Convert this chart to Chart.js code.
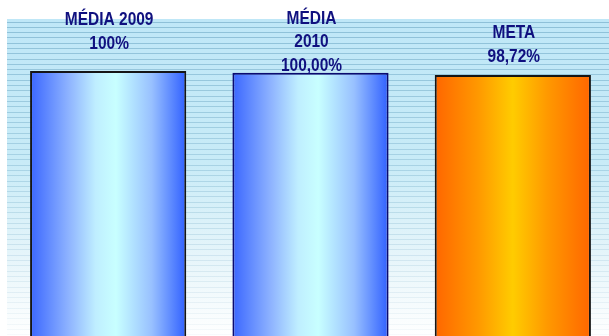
<!DOCTYPE html>
<html>
<head>
<meta charset="utf-8">
<script src="https://cdn.jsdelivr.net/npm/chart.js@4.4.1/dist/chart.umd.min.js"></script>
<style>
  html, body { margin: 0; padding: 0; background: #fff; overflow: hidden; }
  #wrap { width: 614px; height: 384px; }
</style>
</head>
<body>
<div id="wrap"><canvas id="chart" width="614" height="384"></canvas></div>
<script>
// categories and values
const categories = ['MÉDIA 2009', 'MÉDIA 2010', 'META'];
const values = [100, 99.4, 98.72];
const barLabels = [
  ['MÉDIA 2009', '100%'],
  ['MÉDIA', '2010', '100,00%'],
  ['META', '98,72%']
];

const blueStops = [[0, '#3a66ff'], [0.25, '#8fb4ff'], [0.42, '#bfeeff'], [0.55, '#c8ffff'], [0.78, '#98c0ff'], [1, '#3060ff']];
const orangeStops = [[0, '#ff6600'], [0.28, '#ff9900'], [0.5, '#ffcc00'], [0.72, '#ff9900'], [1, '#ff6600']];

// striped light-blue backdrop
const backdrop = {
  id: 'backdrop',
  beforeDatasetsDraw(chart) {
    const { ctx, chartArea: a } = chart;
    const bottom = 336;
    ctx.save();
    const g = ctx.createLinearGradient(0, a.top, 0, bottom);
    g.addColorStop(0, '#bfe7f7');
    g.addColorStop(0.45, '#c8ebf7');
    g.addColorStop(0.75, '#e6f5fa');
    g.addColorStop(1, '#ffffff');
    ctx.fillStyle = g;
    ctx.fillRect(a.left, a.top, a.right - a.left, a.bottom - a.top);
    for (let y = a.top + 2.5; y < bottom; y += 5.3) {
      const t = (y - a.top) / (bottom - a.top);
      ctx.strokeStyle = 'rgba(100,160,190,' + (0.5 * (1 - t) + 0.05) + ')';
      ctx.lineWidth = 1;
      ctx.beginPath();
      ctx.moveTo(a.left, Math.round(y) + 0.5);
      ctx.lineTo(a.right, Math.round(y) + 0.5);
      ctx.stroke();
    }
    // horizontal gradients on the bars
    chart.getDatasetMeta(0).data.forEach((el, i) => {
      const x0 = el.x - el.width / 2, x1 = el.x + el.width / 2;
      const bg = ctx.createLinearGradient(x0, 0, x1, 0);
      (i === 2 ? orangeStops : blueStops).forEach(s => bg.addColorStop(s[0], s[1]));
      el.options.backgroundColor = bg;
    });
    ctx.restore();
  }
};

// text blocks above the bars (condensed bold, like Arial Narrow)
const textOffsets = [27, 7, 18];
const topLabels = {
  id: 'topLabels',
  afterDatasetsDraw(chart) {
    const { ctx } = chart;
    chart.getDatasetMeta(0).data.forEach((el, i) => {
      const lines = barLabels[i];
      const last = el.y - textOffsets[i];
      lines.forEach((txt, k) => {
        ctx.save();
        ctx.font = "bold 18px 'Liberation Sans', Arial, sans-serif";
        ctx.fillStyle = '#10107f';
        ctx.textAlign = 'center';
        ctx.textBaseline = 'middle';
        ctx.translate(el.x + 1, last - (lines.length - 1 - k) * 23.5);
        ctx.scale(0.86, 1);
        ctx.fillText(txt, 0, 0);
        ctx.restore();
      });
    });
  }
};

new Chart(document.getElementById('chart'), {
  type: 'bar',
  data: {
    labels: categories,
    datasets: [{
      data: values,
      backgroundColor: '#88aaff',
      borderColor: ['#151515', '#0a0a70', '#151515'],
      borderWidth: 2,
      borderSkipped: false,
      categoryPercentage: 0.772,
      barPercentage: 1
    }]
  },
  options: {
    responsive: false,
    animation: false,
    layout: { padding: { left: 7, top: 19, right: 0, bottom: 0 } },
    scales: {
      x: { display: false },
      y: { display: false, min: 0, max: 116.6 }
    },
    plugins: {
      legend: { display: false },
      tooltip: { enabled: false }
    }
  },
  plugins: [backdrop, topLabels]
});
</script>
</body>
</html>
